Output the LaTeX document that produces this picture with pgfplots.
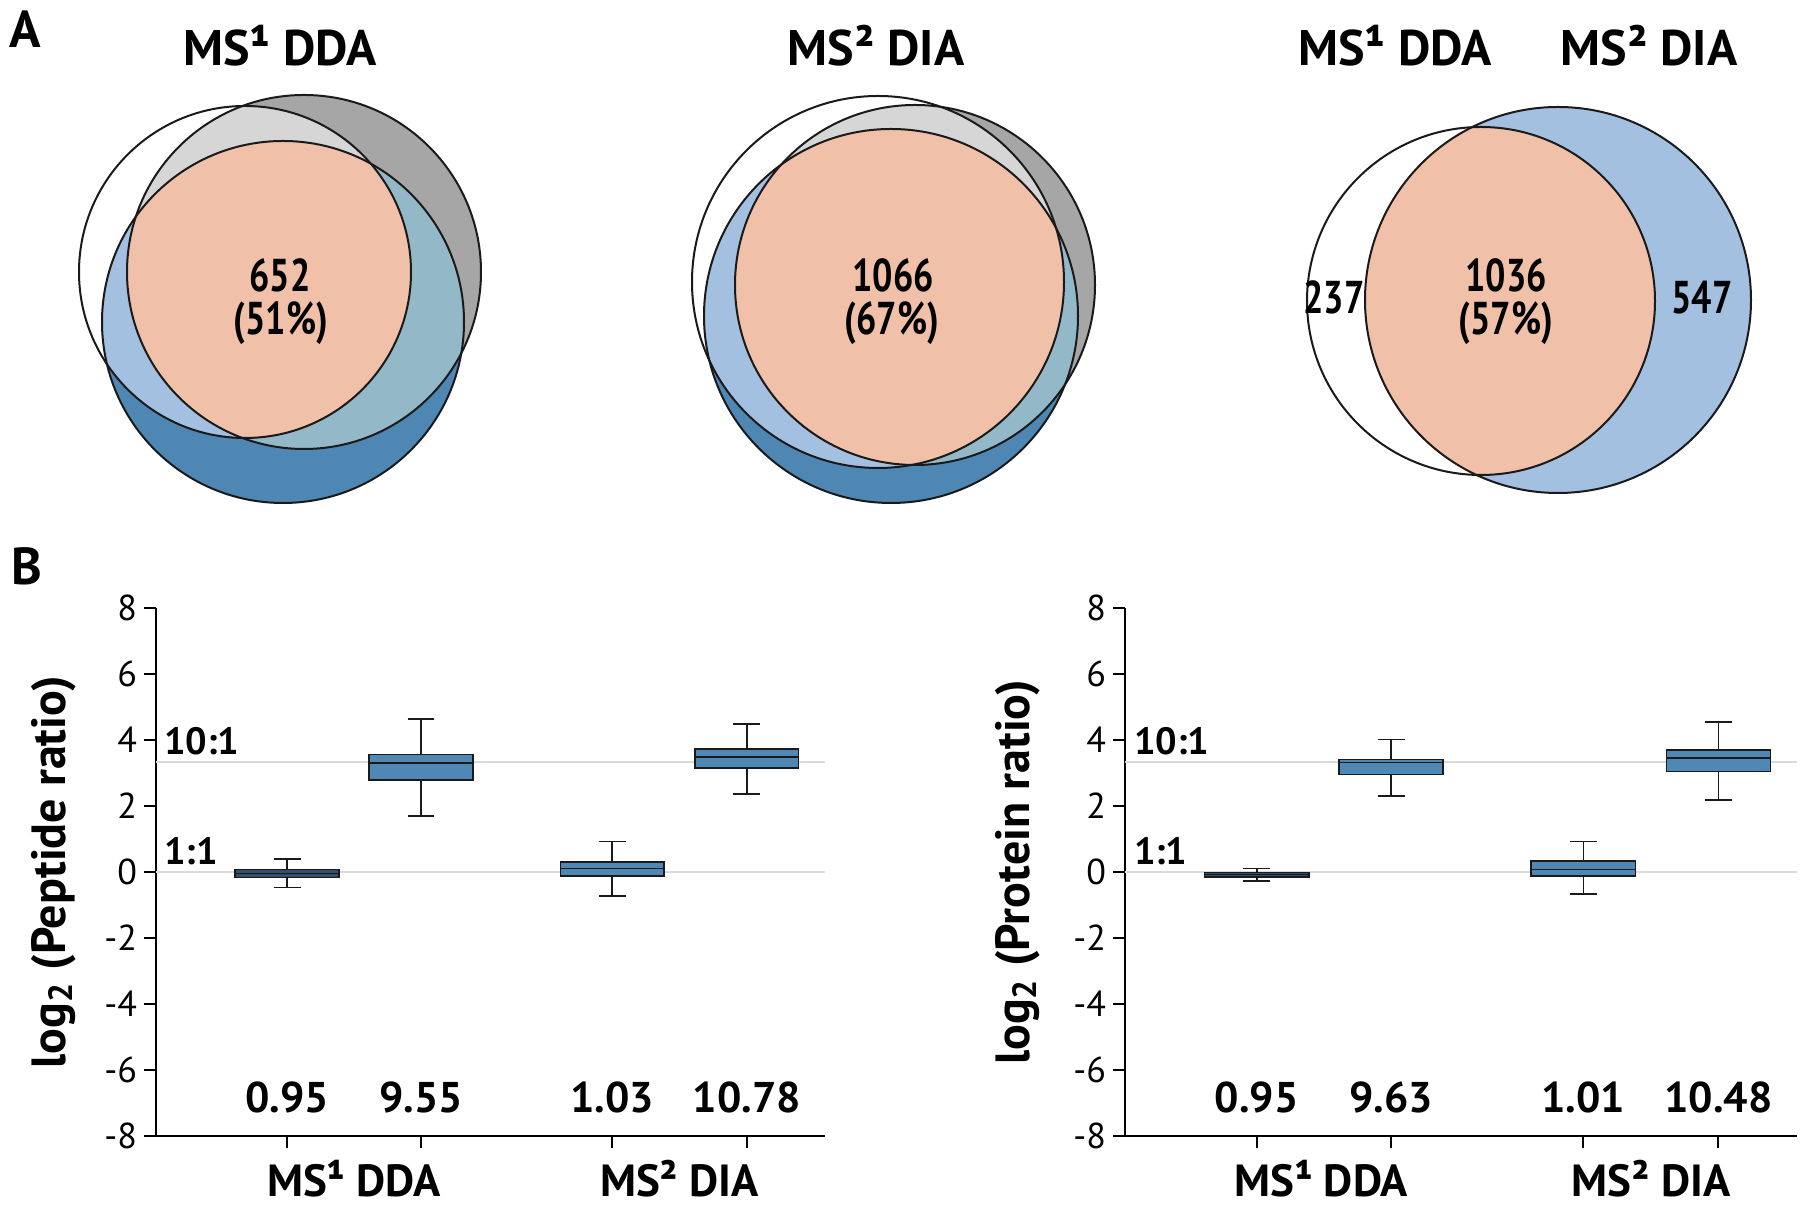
\documentclass[border=0pt]{standalone}
\usepackage{graphicx}
\usepackage{pgfplots}
\pgfplotsset{compat=1.18}
\usepgfplotslibrary{statistics}
\usepackage{fontspec}
\setmainfont{PT Sans}
\definecolor{vorange}{HTML}{F0C0A8}
\definecolor{vlblue}{HTML}{A4C0E1}
\definecolor{vblue}{HTML}{4E87B4}
\definecolor{vteal}{HTML}{93B8C8}
\definecolor{vlgray}{HTML}{D6D6D6}
\definecolor{vdgray}{HTML}{A6A6A6}
\definecolor{boxblue}{HTML}{4F87B5}
\definecolor{boxdark}{HTML}{31506E}
\definecolor{refgray}{HTML}{DADADA}
\definecolor{outl}{HTML}{1A1A1A}
\pgfplotsset{
  boxax/.style={
    scale only axis, height=264pt,
    xmin=0, xmax=10, ymin=-8, ymax=8,
    ytick={-8,-6,...,8},
    xtick={1.96,3.96,6.82,8.83}, xticklabels={},
    axis lines*=left,
    axis line style={line width=1.3pt},
    tick style={black, line width=1.1pt},
    tick align=outside, major tick length=6pt,
    tick label style={font=\fontsize{18}{20}\selectfont},
    /pgf/number format/assume math mode=true,
    clip=false,
    boxplot/draw direction=y,
  },
  bx/.style={draw=outl, line width=0.8pt, solid},
}
\newcommand\valfont{\fontsize{21.5}{24}\selectfont\bfseries}
\newcommand\catfont{\fontsize{22.5}{26}\selectfont\bfseries}
\newcommand\ratfont{\fontsize{19}{22}\selectfont\bfseries}
\newcommand\titfont{\fontsize{25}{28}\selectfont\bfseries}
\newcommand\ylfont{\fontsize{24}{28}\selectfont\bfseries}
\newcommand\vnum[1]{{\fontsize{23}{26}\selectfont\bfseries\scalebox{0.78}[1]{#1}}}
\begin{document}
\begin{tikzpicture}
\path[use as bounding box] (0pt,0pt) rectangle (900pt,603pt);

% ---------- Venn diagrams ----------
\begin{axis}[at={(0pt,0pt)}, anchor=south west, x=0.5pt, y=0.5pt,
  xmin=0, xmax=1800, ymin=0, ymax=1206, hide axis, clip=false]
% Venn 1
\fill[white] (245,934) circle[radius=166];
\fill[vdgray] (304,934) circle[radius=177];
\fill[vblue] (283,884) circle[radius=181];
\begin{scope}\clip (245,934) circle[radius=166]; \fill[vlgray] (304,934) circle[radius=177];\end{scope}
\begin{scope}\clip (245,934) circle[radius=166]; \fill[vlblue] (283,884) circle[radius=181];\end{scope}
\begin{scope}\clip (304,934) circle[radius=177]; \fill[vteal] (283,884) circle[radius=181];\end{scope}
\begin{scope}\clip (245,934) circle[radius=166]; \clip (304,934) circle[radius=177]; \fill[vorange] (283,884) circle[radius=181];\end{scope}
\draw[outl, line width=1pt] (245,934) circle[radius=166];
\draw[outl, line width=1pt] (304,934) circle[radius=177];
\draw[outl, line width=1pt] (283,884) circle[radius=181];
% Venn 2
\fill[white] (878,924) circle[radius=186];
\fill[vdgray] (915,921) circle[radius=180];
\fill[vblue] (891,890) circle[radius=187];
\begin{scope}\clip (878,924) circle[radius=186]; \fill[vlgray] (915,921) circle[radius=180];\end{scope}
\begin{scope}\clip (878,924) circle[radius=186]; \fill[vlblue] (891,890) circle[radius=187];\end{scope}
\begin{scope}\clip (915,921) circle[radius=180]; \fill[vteal] (891,890) circle[radius=187];\end{scope}
\begin{scope}\clip (878,924) circle[radius=186]; \clip (915,921) circle[radius=180]; \fill[vorange] (891,890) circle[radius=187];\end{scope}
\draw[outl, line width=1pt] (878,924) circle[radius=186];
\draw[outl, line width=1pt] (915,921) circle[radius=180];
\draw[outl, line width=1pt] (891,890) circle[radius=187];
% Venn 3
\fill[white] (1481,905) circle[radius=174];
\fill[vlblue] (1558,906) circle[radius=193];
\begin{scope}\clip (1481,905) circle[radius=174]; \fill[vorange] (1558,906) circle[radius=193];\end{scope}
\draw[outl, line width=1pt] (1481,905) circle[radius=174];
\draw[outl, line width=1pt] (1558,906) circle[radius=193];
% texts
\node[anchor=base, inner sep=0, font=\fontsize{26}{28}\selectfont\bfseries] at (25,1158) {A};
\node[anchor=base, inner sep=0, font=\fontsize{26}{28}\selectfont\bfseries] at (27,621) {B};
\node[anchor=base, inner sep=0, font=\titfont] at (280,1140) {MS¹ DDA};
\node[anchor=base, inner sep=0, font=\titfont] at (876,1140) {MS² DIA};
\node[anchor=base, inner sep=0, font=\titfont] at (1395,1140) {MS¹ DDA};
\node[anchor=base, inner sep=0, font=\titfont] at (1649,1140) {MS² DIA};
\node[anchor=base, inner sep=0] at (280,914) {\vnum{652}};
\node[anchor=base, inner sep=0] at (281,871) {\vnum{(51\%)}};
\node[anchor=base, inner sep=0] at (893,914) {\vnum{1066}};
\node[anchor=base, inner sep=0] at (892,871) {\vnum{(67\%)}};
\node[anchor=base, inner sep=0] at (1506,914) {\vnum{1036}};
\node[anchor=base, inner sep=0] at (1506,871) {\vnum{(57\%)}};
\node[anchor=base, inner sep=0] at (1334,892) {\vnum{237}};
\node[anchor=base, inner sep=0] at (1702,892) {\vnum{547}};
\end{axis}

% ---------- Box plot: peptides ----------
\begin{axis}[boxax, at={(78pt,35pt)}, anchor=south west, width=334.5pt]
\addplot[refgray, line width=1pt, forget plot] coordinates {(0,0) (10,0)};
\addplot[refgray, line width=1pt, forget plot] coordinates {(0,3.3219) (10,3.3219)};
\addplot[bx, fill=boxdark, boxplot prepared={draw position=1.96, lower whisker=-0.47, lower quartile=-0.17, median=-0.05, upper quartile=0.08, upper whisker=0.39, box extend=1.55, whisker extend=0.4}] coordinates {};
\addplot[bx, fill=boxblue, boxplot prepared={draw position=3.96, lower whisker=1.69, lower quartile=2.79, median=3.31, upper quartile=3.56, upper whisker=4.64, box extend=1.55, whisker extend=0.4}] coordinates {};
\addplot[bx, fill=boxblue, boxplot prepared={draw position=6.82, lower whisker=-0.73, lower quartile=-0.12, median=0.11, upper quartile=0.30, upper whisker=0.93, box extend=1.55, whisker extend=0.4}] coordinates {};
\addplot[bx, fill=boxblue, boxplot prepared={draw position=8.83, lower whisker=2.36, lower quartile=3.15, median=3.49, upper quartile=3.72, upper whisker=4.48, box extend=1.55, whisker extend=0.4}] coordinates {};
\node[anchor=base west, inner sep=0, font=\ratfont] at (axis cs:0.12,3.55) {10:1};
\node[anchor=base west, inner sep=0, font=\ratfont] at (axis cs:0.12,0.23) {1:1};
\node[anchor=base, inner sep=0, font=\valfont] at (axis cs:1.96,-7.3) {0.95};
\node[anchor=base, inner sep=0, font=\valfont] at (axis cs:3.96,-7.3) {9.55};
\node[anchor=base, inner sep=0, font=\valfont] at (axis cs:6.82,-7.3) {1.03};
\node[anchor=base, inner sep=0, font=\valfont] at (axis cs:8.83,-7.3) {10.78};
\node[anchor=base, inner sep=0, font=\catfont] at (axis cs:2.96,-9.82) {MS¹ DDA};
\node[anchor=base, inner sep=0, font=\catfont] at (axis cs:7.825,-9.82) {MS² DIA};
\node[rotate=90, anchor=center, inner sep=0, font=\ylfont] at (axis description cs:-0.153,0.5) {log\textsubscript{2} (Peptide ratio)};
\end{axis}

% ---------- Box plot: proteins ----------
\begin{axis}[boxax, at={(562.5pt,35pt)}, anchor=south west, width=336pt]
\addplot[refgray, line width=1pt, forget plot] coordinates {(0,0) (10,0)};
\addplot[refgray, line width=1pt, forget plot] coordinates {(0,3.3219) (10,3.3219)};
\addplot[bx, fill=boxdark, boxplot prepared={draw position=1.96, lower whisker=-0.28, lower quartile=-0.15, median=-0.08, upper quartile=-0.02, upper whisker=0.11, box extend=1.55, whisker extend=0.4}] coordinates {};
\addplot[bx, fill=boxblue, boxplot prepared={draw position=3.96, lower whisker=2.31, lower quartile=2.96, median=3.32, upper quartile=3.41, upper whisker=4.02, box extend=1.55, whisker extend=0.4}] coordinates {};
\addplot[bx, fill=boxblue, boxplot prepared={draw position=6.82, lower whisker=-0.67, lower quartile=-0.12, median=0.08, upper quartile=0.33, upper whisker=0.93, box extend=1.55, whisker extend=0.4}] coordinates {};
\addplot[bx, fill=boxblue, boxplot prepared={draw position=8.83, lower whisker=2.18, lower quartile=3.05, median=3.45, upper quartile=3.69, upper whisker=4.55, box extend=1.55, whisker extend=0.4}] coordinates {};
\node[anchor=base west, inner sep=0, font=\ratfont] at (axis cs:0.13,3.55) {10:1};
\node[anchor=base west, inner sep=0, font=\ratfont] at (axis cs:0.13,0.23) {1:1};
\node[anchor=base, inner sep=0, font=\valfont] at (axis cs:1.96,-7.3) {0.95};
\node[anchor=base, inner sep=0, font=\valfont] at (axis cs:3.96,-7.3) {9.63};
\node[anchor=base, inner sep=0, font=\valfont] at (axis cs:6.82,-7.3) {1.01};
\node[anchor=base, inner sep=0, font=\valfont] at (axis cs:8.83,-7.3) {10.48};
\node[anchor=base, inner sep=0, font=\catfont] at (axis cs:2.92,-9.82) {MS¹ DDA};
\node[anchor=base, inner sep=0, font=\catfont] at (axis cs:7.83,-9.82) {MS² DIA};
\node[rotate=90, anchor=center, inner sep=0, font=\ylfont] at (axis description cs:-0.16,0.5) {log\textsubscript{2} (Protein ratio)};
\end{axis}
\end{tikzpicture}
\end{document}
